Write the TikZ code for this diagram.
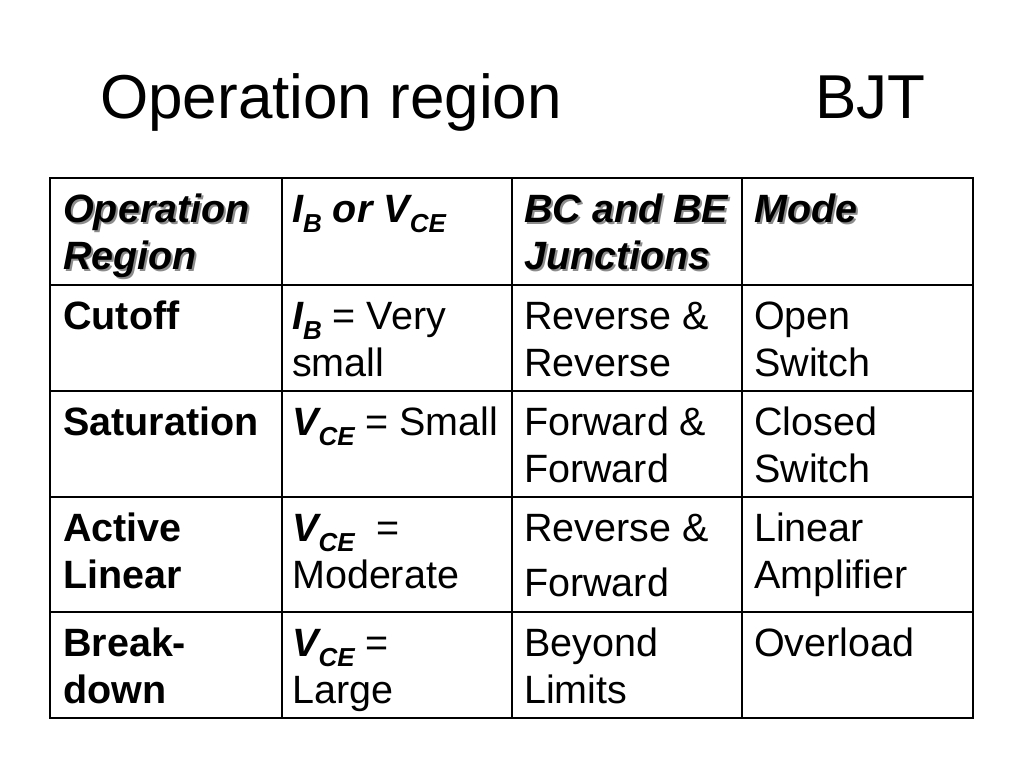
\documentclass[tikz,border=0pt]{standalone}
\usepackage{fontspec}
\setmainfont{Liberation Sans}
\newcommand\mysub[1]{\raisebox{-10pt}{\fontsize{26}{26}\selectfont\bfseries\itshape #1}}
\newcommand\bi[1]{{\bfseries\itshape #1}}
\begin{document}
\begin{tikzpicture}[x=1pt,y=-1pt,
  txt/.style={anchor=base west,inner sep=0pt,font=\fontsize{39.5}{47}\selectfont},
  hdr/.style={txt,font=\fontsize{39.5}{47}\selectfont\bfseries\itshape},
  shd/.style={txt,font=\fontsize{39.5}{47}\selectfont\bfseries\itshape,text=black!45},
  bld/.style={txt,font=\fontsize{39.5}{47}\selectfont\bfseries},
  ttl/.style={anchor=base west,inner sep=0pt,font=\fontsize{62}{70}\selectfont},
  grid/.style={line width=2.8pt,line cap=rect}]
\useasboundingbox[fill=white] (0,0) rectangle (1024,768);
% title
\node[ttl] (t1) at (100,118) {Operation region};
\node[ttl] (t2) at (815,118) {BJT};
% grid
\draw[grid] (50,178) rectangle (973,718);
\foreach \yy in {285,391,497,612} \draw[grid] (50,\yy) -- (973,\yy);
\foreach \xx in {282,512,742} \draw[grid] (\xx,178) -- (\xx,718);
% header (with shadow)
\node[shd] (s11a) at (65,224) {Operation};
\node[shd] (s11b) at (65,271) {Region};
\node[shd] (s13a) at (526,224) {BC and BE};
\node[shd] (s13b) at (526,271) {Junctions};
\node[shd] (s14a) at (756,224) {Mode};
\node[hdr] (h11a) at (63,222) {Operation};
\node[hdr] (h11b) at (63,269) {Region};
\node[hdr] (h12a) at (292,222) {I\mysub{B} or V\mysub{CE}};
\node[hdr] (h13a) at (524,222) {BC and BE};
\node[hdr] (h13b) at (524,269) {Junctions};
\node[hdr] (h14a) at (754,222) {Mode};
% row 2
\node[bld] (r21a) at (63,329) {Cutoff};
\node[txt] (r22a) at (292,329) {\bi{I}\mysub{B} = Very};
\node[txt] (r22b) at (292,376) {small};
\node[txt] (r23a) at (524,329) {Reverse \&};
\node[txt] (r23b) at (524,376) {Reverse};
\node[txt] (r24a) at (754,329) {Open};
\node[txt] (r24b) at (754,376) {Switch};
% row 3
\node[bld] (r31a) at (63,435) {Saturation};
\node[txt] (r32a) at (292,435) {\bi{V}\mysub{CE} = Small};
\node[txt] (r33a) at (524,435) {Forward \&};
\node[txt] (r33b) at (524,482) {Forward};
\node[txt] (r34a) at (754,435) {Closed};
\node[txt] (r34b) at (754,482) {Switch};
% row 4
\node[bld] (r41a) at (63,541) {Active};
\node[bld] (r41b) at (63,588) {Linear};
\node[txt] (r42a) at (292,541) {\bi{V}\mysub{CE}\ \ =};
\node[txt] (r42b) at (292,588) {Moderate};
\node[txt] (r43a) at (524,541) {Reverse \&};
\node[txt] (r43b) at (524,596) {Forward};
\node[txt] (r44a) at (754,541) {Linear};
\node[txt] (r44b) at (754,588) {Amplifier};
% row 5
\node[bld] (r51a) at (63,656) {Break-};
\node[bld] (r51b) at (63,703) {down};
\node[txt] (r52a) at (292,656) {\bi{V}\mysub{CE} =};
\node[txt] (r52b) at (292,703) {Large};
\node[txt] (r53a) at (524,656) {Beyond};
\node[txt] (r53b) at (524,703) {Limits};
\node[txt] (r54a) at (754,656) {Overload};
\end{tikzpicture}
\end{document}
